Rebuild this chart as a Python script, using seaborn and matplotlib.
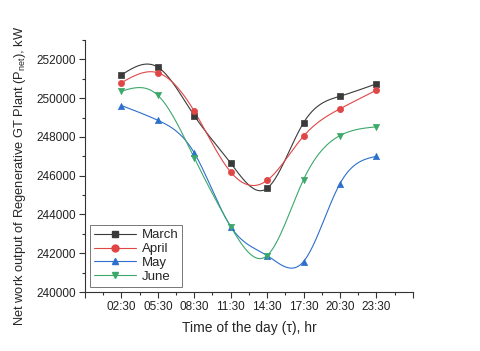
import numpy as np
import pandas as pd
import matplotlib
matplotlib.use("Agg")
import matplotlib.pyplot as plt
import seaborn as sns
from matplotlib.ticker import MultipleLocator, FixedLocator

# 数据
times = ['02:30', '05:30', '08:30', '11:30', '14:30', '17:30', '20:30', '23:30']
march = [251200, 251600, 249100, 246650, 245350, 248730, 250100, 250740]
april = [250800, 251310, 249330, 246190, 245760, 248040, 249450, 250410]
may = [249620, 248860, 247180, 243380, 241880, 241570, 245590, 247000]
june = [250360, 250150, 246920, 243380, 241880, 245800, 248070, 248520]

sns.set_style("ticks")
plt.rcParams['font.family'] = ['Liberation Sans', 'DejaVu Sans']

df = pd.DataFrame({'pos': np.arange(len(times)), 'March': march, 'April': april,
                   'May': may, 'June': june})
long = df.melt(id_vars='pos', var_name='month', value_name='P')

styles = {
    'March': ('#3a3a3a', 's'),
    'April': ('#e04646', 'o'),
    'May': ('#2c6fcc', '^'),
    'June': ('#3ca86a', 'v'),
}


def natural_spline(x, y, n=200):
    # 自然三次样条，仅用于绘制平滑连线
    x = np.asarray(x, float)
    y = np.asarray(y, float)
    k = len(x)
    h = np.diff(x)
    A = np.zeros((k, k))
    b = np.zeros(k)
    A[0, 0] = A[-1, -1] = 1
    for i in range(1, k - 1):
        A[i, i - 1] = h[i - 1]
        A[i, i] = 2 * (h[i - 1] + h[i])
        A[i, i + 1] = h[i]
        b[i] = 3 * ((y[i + 1] - y[i]) / h[i] - (y[i] - y[i - 1]) / h[i - 1])
    c = np.linalg.solve(A, b)
    xs = np.linspace(x[0], x[-1], n)
    idx = np.clip(np.searchsorted(x, xs) - 1, 0, k - 2)
    dx = xs - x[idx]
    bb = (y[idx + 1] - y[idx]) / h[idx] - h[idx] * (2 * c[idx] + c[idx + 1]) / 3
    dd = (c[idx + 1] - c[idx]) / (3 * h[idx])
    ys = y[idx] + bb * dx + c[idx] * dx ** 2 + dd * dx ** 3
    return xs, ys


fig = plt.figure(figsize=(4.8, 3.51), dpi=100)
ax = fig.add_axes([0.177, 0.168, 0.683, 0.718])

for m, (col, mk) in styles.items():
    sub = long[long['month'] == m]
    xs, ys = natural_spline(sub['pos'], sub['P'])
    ax.plot(xs, ys, color=col, lw=0.8, zorder=2)
    sns.scatterplot(data=sub, x='pos', y='P', color=col, marker=mk, s=20,
                    edgecolor=col, linewidth=0.5, ax=ax, zorder=3)
    ax.plot([], [], color=col, marker=mk, ms=5, lw=0.8, label=m)

ax.set_xlim(-1, 8)
ax.set_ylim(240000, 253000)
ax.xaxis.set_major_locator(FixedLocator(np.arange(-1, 9)))
ax.set_xticklabels([''] + times + [''])
ax.xaxis.set_minor_locator(FixedLocator(np.arange(-0.5, 8, 1)))
ax.yaxis.set_major_locator(MultipleLocator(2000))
ax.yaxis.set_minor_locator(MultipleLocator(1000))
ax.tick_params(axis='both', which='major', labelsize=8.5, length=4, width=0.8, direction='out', colors='#333333', pad=2.5)
ax.tick_params(axis='both', which='minor', length=2.5, width=0.8, direction='out', colors='#333333')
for lab in ax.get_xticklabels() + ax.get_yticklabels():
    lab.set_color('#222222')
sns.despine(ax=ax)
for s in ['left', 'bottom']:
    ax.spines[s].set_linewidth(0.8)
    ax.spines[s].set_color('#333333')

ax.set_xlabel('Time of the day (\u03c4), hr', fontsize=10, labelpad=6)
ax.set_ylabel('Net work output of Regenerative GT Plant (P$_{\\mathregular{net}}$), kW', fontsize=9.3)
ax.yaxis.set_label_coords(-0.175, 0.46)

leg = ax.legend(loc='lower left', fontsize=9.5, frameon=True, fancybox=False,
                edgecolor='#555555', borderpad=0.3, labelspacing=0.12,
                handlelength=3.2, handletextpad=0.4, borderaxespad=0.4)
leg.get_frame().set_linewidth(0.7)

fig.savefig('out.png', dpi=100)
